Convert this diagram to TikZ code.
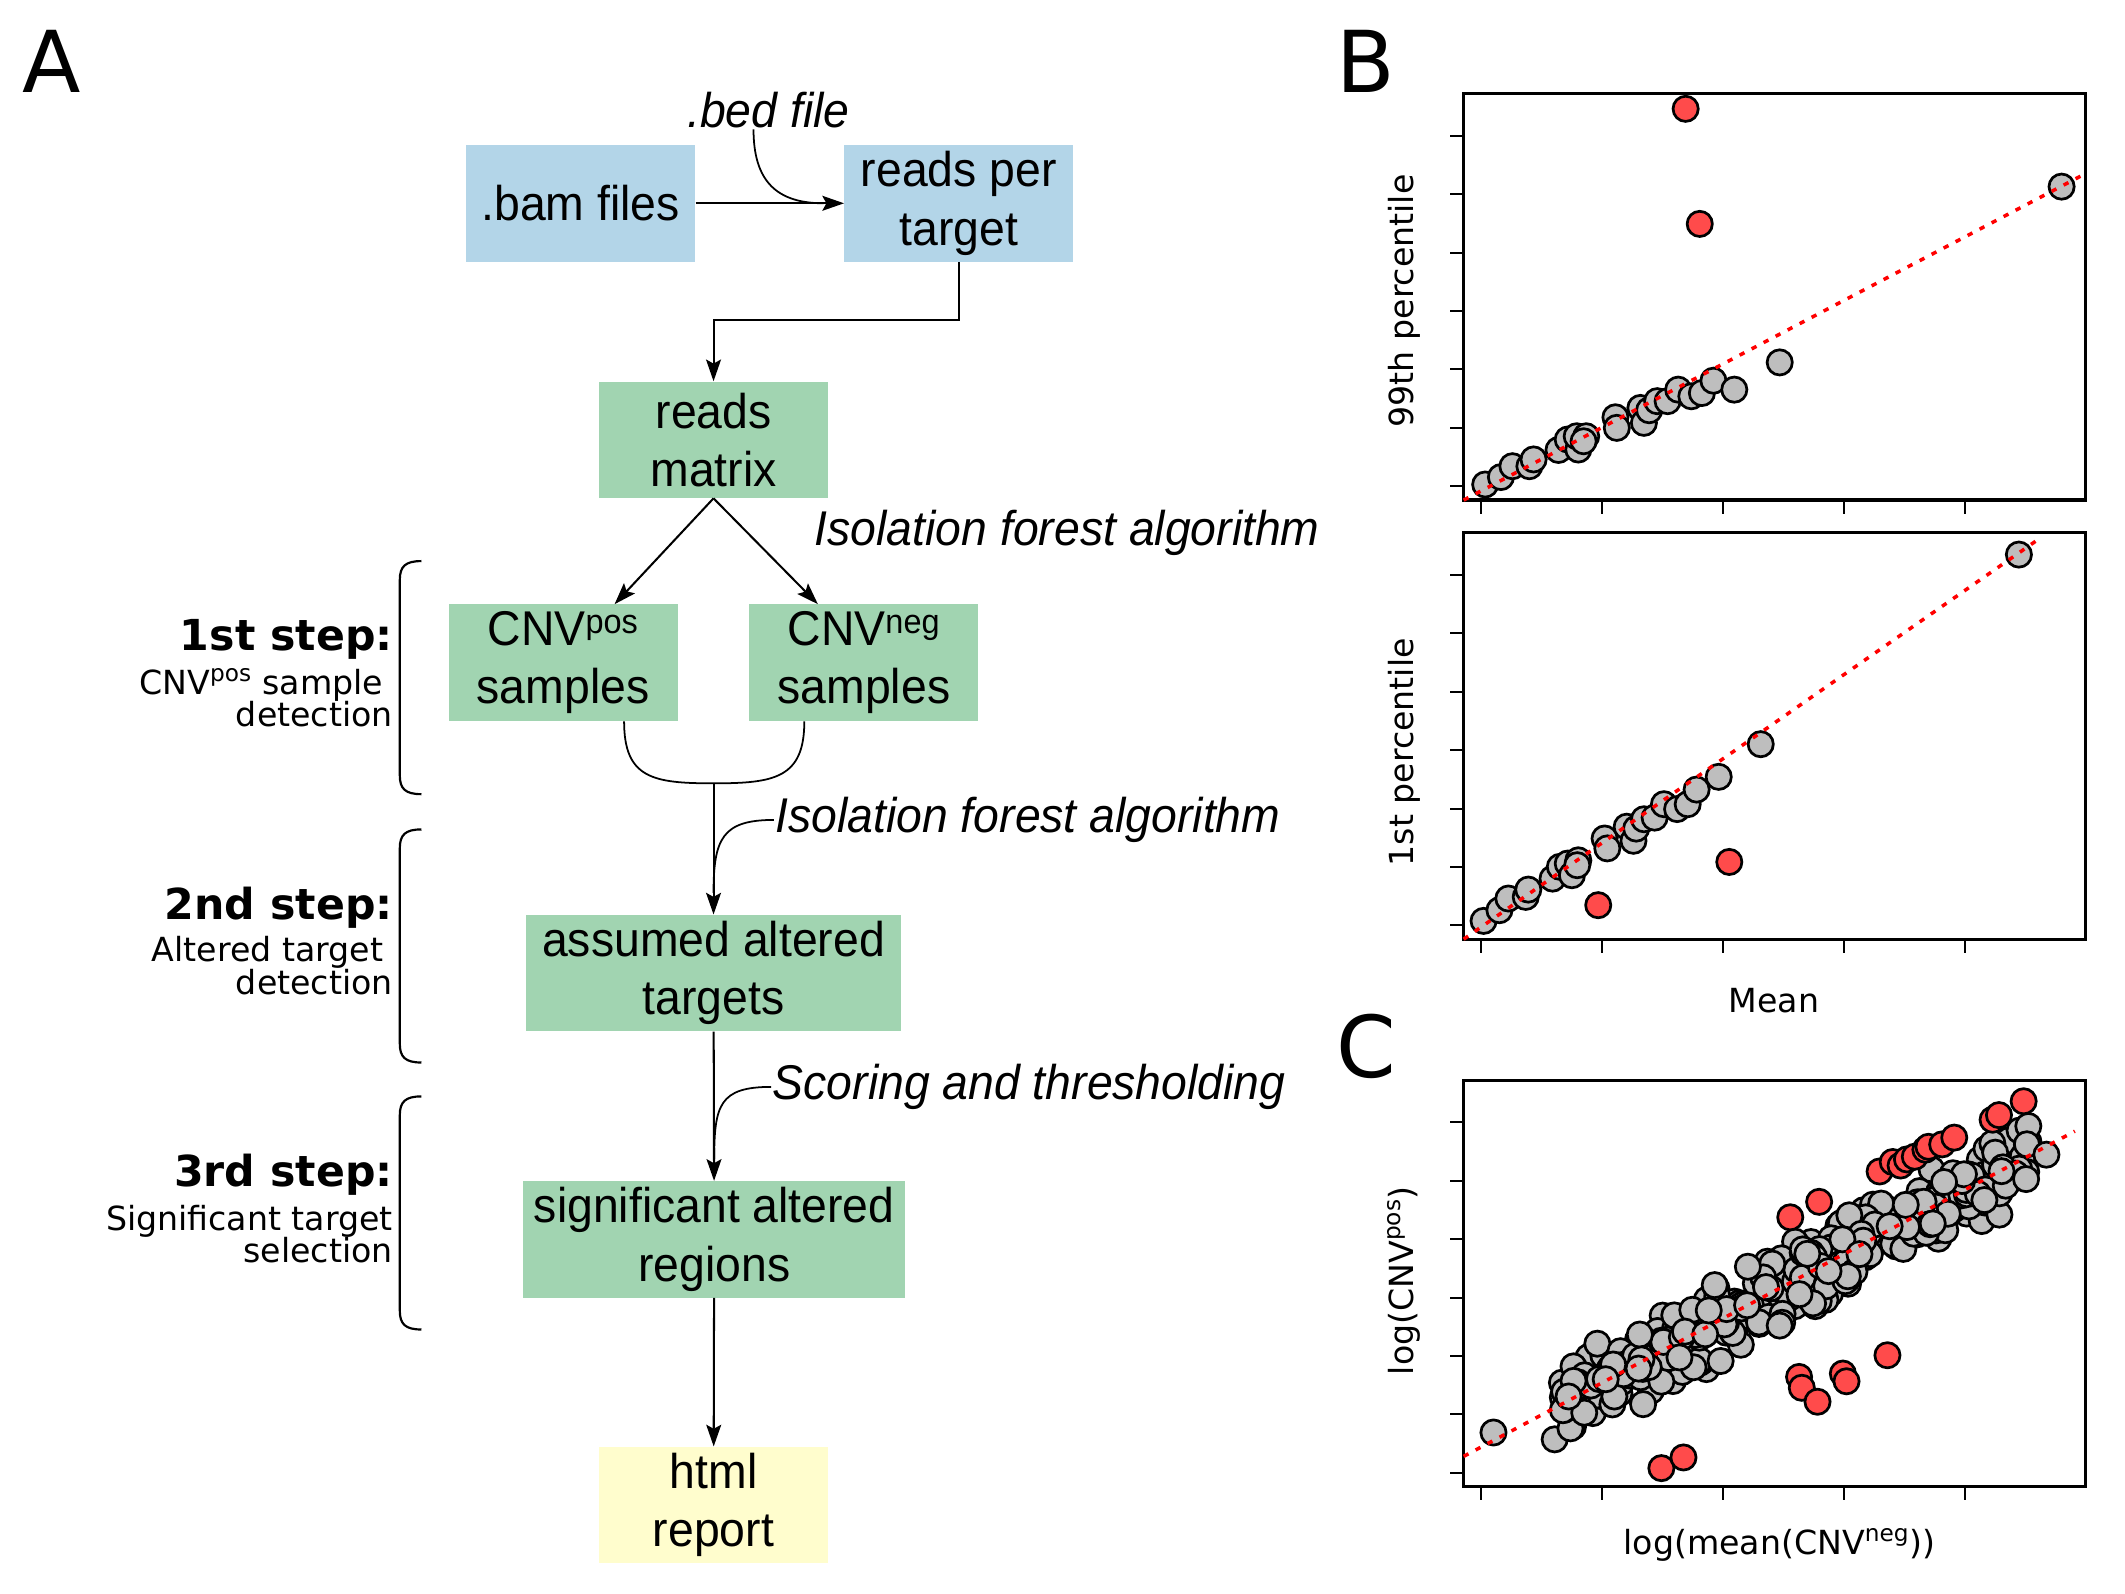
\documentclass[tikz,border=0pt]{standalone}
\usepackage{fontspec}
\usetikzlibrary{arrows.meta}
\newfontfamily\boxfont[FakeStretch=0.95]{Liberation Sans}
\newfontfamily\labfont{DejaVu Sans}
\definecolor{boxblue}{RGB}{179,213,232}
\definecolor{boxgreen}{RGB}{161,212,177}
\definecolor{boxyellow}{RGB}{255,253,205}
\definecolor{ptgray}{RGB}{190,190,190}
\definecolor{ptred}{RGB}{255,75,75}

\begin{document}
\begin{tikzpicture}[x=1pt, y=-1pt,
  box/.style={inner sep=0pt, minimum width=169pt, minimum height=86pt, align=center, font={\boxfont\fontsize{36}{43}\selectfont}},
  lab/.style={inner sep=1pt, font={\boxfont\itshape\fontsize{36}{43}\selectfont}},
  arr/.style={line width=1.5pt, -{Stealth[length=16pt, width=11pt, inset=3pt]}},
  curve/.style={line width=1.3pt},
  brace/.style={line width=1.6pt},
  steptitle/.style={inner sep=0pt, anchor=east, font={\labfont\bfseries\fontsize{31.5}{36}\selectfont}},
  stepdesc/.style={inner sep=0pt, anchor=east, align=right, font={\labfont\fontsize{24.5}{24}\selectfont}},
  panel/.style={inner sep=0pt, font={\labfont\fontsize{63}{70}\selectfont}},
  axlab/.style={inner sep=0pt, font={\labfont\fontsize{24.5}{28}\selectfont}},
  frame/.style={line width=2.4pt},
  tick/.style={line width=1.5pt},
  gdot/.style={fill=ptgray, draw=black, line width=2pt},
  rdot/.style={fill=ptred, draw=black, line width=2pt},
  fitline/.style={red, line width=2.6pt, dash pattern=on 4pt off 6pt}]
\useasboundingbox (0,0) rectangle (1568,1176);

% flow chart
\node[panel] (pa) at (38,45) {A};
\node[box, fill=boxblue] (bam) at (428.5,150) {.bam files};
\node[box, fill=boxblue] (rpt) at (707.5,150) {reads per\\target};
\node[box, fill=boxgreen] (matrix) at (526.5,324.5) {reads\\matrix};
\node[box, fill=boxgreen] (pos) at (415.5,489) {CNV\textsuperscript{pos}\\samples};
\node[box, fill=boxgreen] (neg) at (637.5,489) {CNV\textsuperscript{neg}\\samples};
\node[box, fill=boxgreen, minimum width=277pt] (assumed) at (526.5,718) {assumed altered\\targets};
\node[box, fill=boxgreen, minimum width=282pt] (signif) at (527,914.5) {significant altered\\regions};
\node[box, fill=boxyellow] (html) at (526.5,1110.5) {html\\report};

\node[lab] (bed) at (567,81) {.bed file};
\node[lab, anchor=west] (iso1) at (600,393) {Isolation forest algorithm};
\node[lab, anchor=west] (iso2) at (571,605) {Isolation forest algorithm};
\node[lab, anchor=west] (score) at (569,802) {Scoring and thresholding};

\draw[arr] (bam) -- (rpt);
\draw[curve] ([xshift=-11pt]bed.south) .. controls +(0,38) and +(-35,0) .. ([xshift=-15pt]rpt.west);
\draw[arr] (rpt.south) -- ++(0,43) -| (matrix.north);
\draw[arr] (matrix.south) -- ([xshift=38pt]pos.north);
\draw[arr] (matrix.south) -- ([xshift=-34pt]neg.north);
\coordinate (merge) at (526.5,578);
\draw[curve] ([xshift=45pt]pos.south) .. controls +(0,42) and +(-45,0) .. (merge) .. controls +(45,0) and +(0,42) .. ([xshift=-44pt]neg.south);
\draw[arr] (merge) -- (assumed);
\draw[curve] (iso2.west) .. controls +(-38,0) and +(0,-40) .. ([yshift=16pt]assumed.north);
\draw[arr] (assumed) -- (signif);
\draw[curve] (score.west) .. controls +(-38,0) and +(0,-40) .. ([yshift=16pt]signif.north);
\draw[arr] (signif) -- (html);

% steps
\foreach \t/\b in {414/586, 612/784, 809/981}
  \draw[brace] (311,\t) .. controls (299,\t) and (295,\t+4) .. (295,\t+14) -- (295,\b-14) .. controls (295,\b-4) and (299,\b) .. (311,\b);
\node[steptitle] (s1) at (290,472) {1st step:};
\node[stepdesc] (s1d) at (290,515) {CNV\textsuperscript{pos} sample\hspace*{7pt}\\detection};
\node[steptitle] (s2) at (290,670) {2nd step:};
\node[stepdesc] (s2d) at (290,712.5) {Altered target\hspace*{7pt}\\detection};
\node[steptitle] (s3) at (290,867) {3rd step:};
\node[stepdesc] (s3d) at (290,910.5) {Significant target\\selection};

% plots
\node[panel] (pb) at (1008,45) {B};
\node[panel] (pc) at (1008,772) {C};
\foreach \top in {69,393,797}{
  \draw[frame] (1080,\top) rectangle ++(459,300);
  \foreach \k in {0,...,6} \draw[tick] (1070,\top+31.2+43.1*\k) -- ++(10,0);
  \foreach \k in {0,...,4} \draw[tick] (1093+89.3*\k,\top+300) -- ++(0,10);
}
\node[axlab, rotate=90] (yb1) at (1036,222) {99th percentile};
\node[axlab, rotate=90] (yb2) at (1036,555) {1st percentile};
\node[axlab] (xb) at (1309,738) {Mean};
\node[axlab, rotate=90] (yc) at (1036,945) {log(CNV\textsuperscript{pos})};
\node[axlab] (xc) at (1313,1140) {log(mean(CNV\textsuperscript{neg}))};

% B top
\foreach \px/\py in {1095.9/357.5, 1107.5/352, 1116/344, 1128.5/344, 1131.6/339, 1150/332, 1156.8/324.3, 1164.6/331.7, 1163.4/321.9, 1170.4/321.9, 1168.5/325.6, 1192/307.9, 1193/315.7, 1210.4/301, 1213/312, 1216.9/302.7, 1222.8/296, 1230.5/296, 1238.3/287.5, 1248/292.4, 1255.8/290, 1264.3/280.9, 1279.7/287.5, 1313.2/267.4, 1521.2/137.7}
  \filldraw[gdot] (\px,\py) circle[radius=9.3];
\draw[fitline] (1080,369) -- (1539,128);
\foreach \px/\py in {1243.8/80.3, 1254.2/165.2}
  \filldraw[rdot] (\px,\py) circle[radius=9.3];

% B bottom
\foreach \px/\py in {1094.7/679.5, 1106.4/671.6, 1113/663, 1125.8/661.8, 1127.7/656.4, 1145.6/648.3, 1151/639.6, 1156.8/637.2, 1159.9/645.8, 1164.6/634.8, 1163.8/638.4, 1184/618.7, 1186/626, 1200.3/610, 1205.3/620.4, 1207.3/611.4, 1213.1/604.5, 1220.9/603.3, 1227.8/593.4, 1237.5/597, 1245.3/593.4, 1251.9/582.6, 1268.2/573.2, 1299.2/549.1, 1489.7/409.2}
  \filldraw[gdot] (\px,\py) circle[radius=9.3];
\draw[fitline] (1080,693) -- (1504,398);
\foreach \px/\py in {1179.3/667.9, 1276/636}
  \filldraw[rdot] (\px,\py) circle[radius=9.3];

% C
\pgfmathsetseed{1234}
\filldraw[gdot] (1102,1057) circle[radius=9.3];
\foreach \i in {1,...,380}{
  \pgfmathsetmacro\cx{1146+352*rnd}
  \pgfmathsetmacro\cy{1074.6-0.5317*(\cx-1080)+17*(rand+rand)}
  \filldraw[gdot] (\cx,\cy) circle[radius=9.3];
}
\foreach \px/\py in {1510/852, 1495/870}
  \filldraw[gdot] (\px,\py) circle[radius=9.3];
\draw[fitline] (1080,1074.6) -- (1531,834.7);
\foreach \px/\py in {1386.9/864.4, 1396.6/857.4, 1402.4/860, 1407.1/855.5, 1412.9/853.5, 1420.7/848.3, 1423/846.2, 1433.1/844.4, 1442/839.4, 1470.3/826.2, 1475/822.8, 1493.2/812.6, 1321/898.2, 1342.3/886.8, 1327.5/1016, 1329.5/1024, 1341.1/1034.3, 1359.8/1013.5, 1362.5/1019.2, 1392.7/1000, 1225.9/1083.3, 1242.2/1075.4}
  \filldraw[rdot] (\px,\py) circle[radius=9.3];
\end{tikzpicture}
\end{document}
